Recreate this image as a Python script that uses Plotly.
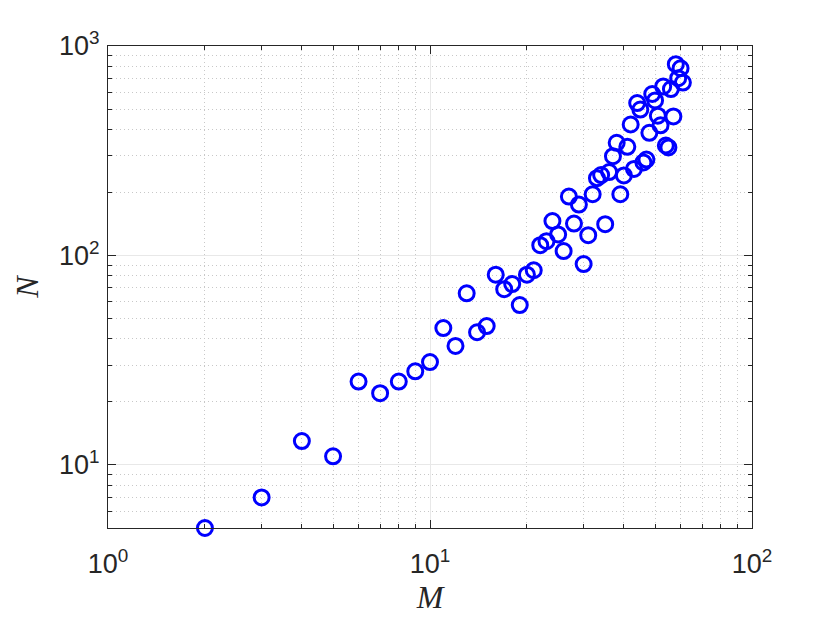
import plotly.graph_objects as go

# Data
M = [2, 3, 4, 5, 6, 7, 8, 9, 10, 11, 12, 13, 14, 15, 16, 17, 18, 19, 20, 21,
     22, 23, 24, 25, 26, 27, 28, 29, 30, 31, 32, 33, 34, 35, 36, 37, 38, 39, 40, 41,
     42, 43, 44, 45, 46, 47, 48, 49, 50, 51, 52, 53, 54, 55, 56, 57, 58, 59, 60, 61]
N = [5, 7, 13, 11, 25, 22, 25, 28, 31, 45, 37, 66, 43, 46, 81, 69, 73, 58, 81, 85,
     112, 117, 146, 126, 105, 191, 142, 175, 91, 125, 196, 234, 242, 141, 250, 298, 345, 196, 241, 330,
     422, 259, 534, 497, 278, 287, 385, 590, 550, 465, 418, 641, 335, 328, 623, 461, 819, 702, 783, 669]

x_major = [1, 10, 100]
x_major_text = ["10<sup>0</sup>", "10<sup>1</sup>", "10<sup>2</sup>"]
y_major = [10, 100, 1000]
y_major_text = ["10<sup>1</sup>", "10<sup>2</sup>", "10<sup>3</sup>"]
x_minor = [d * 10 ** e for e in range(0, 2) for d in range(2, 10)]
y_minor = [d * 10 ** e for e in range(0, 3) for d in range(2, 10)]

axis_col = "#262626"
tick_font = dict(family="Liberation Sans, Arial, sans-serif", size=27, color=axis_col)
label_font = dict(family="Liberation Serif, DejaVu Serif, serif", size=32, color=axis_col)

fig = go.Figure()
fig.add_trace(go.Scatter(
    x=M, y=N, mode="markers",
    marker=dict(symbol="circle-open", size=15, color="#0000ff",
                line=dict(width=3, color="#0000ff")),
    cliponaxis=False, showlegend=False,
))

common = dict(
    type="log", ticks="inside", ticklen=8, tickwidth=1, tickcolor=axis_col,
    showline=True, linecolor=axis_col, linewidth=1, mirror="ticks",
    showgrid=True, gridcolor="#e8e8e8", gridwidth=1, zeroline=False,
    tickfont=tick_font, tickmode="array",
)

fig.update_xaxes(
    **common, range=[0, 2], tickvals=x_major, ticktext=x_major_text,
    ticklabelstandoff=12,
    minor=dict(tickvals=x_minor, ticks="inside", ticklen=4, tickcolor=axis_col,
               showgrid=True, gridcolor="#c8c8c8", griddash="1px,3px", gridwidth=1),
    title=dict(text="<i>M</i>", font=label_font, standoff=2),
)
fig.update_yaxes(
    **common, range=[0.69897, 3], tickvals=y_major, ticktext=y_major_text,
    ticklabelstandoff=2,
    minor=dict(tickvals=y_minor, ticks="inside", ticklen=4, tickcolor=axis_col,
               showgrid=True, gridcolor="#c8c8c8", griddash="1px,3px", gridwidth=1),
    title=dict(text="<i>N</i>", font=label_font, standoff=10),
)

# page body has an 8px default margin, compensate so the plot area matches
fig.update_layout(
    width=822, height=615,
    margin=dict(l=100, r=78, t=38, b=95, autoexpand=False),
    paper_bgcolor="white", plot_bgcolor="white",
)

fig.write_html("out.html")
